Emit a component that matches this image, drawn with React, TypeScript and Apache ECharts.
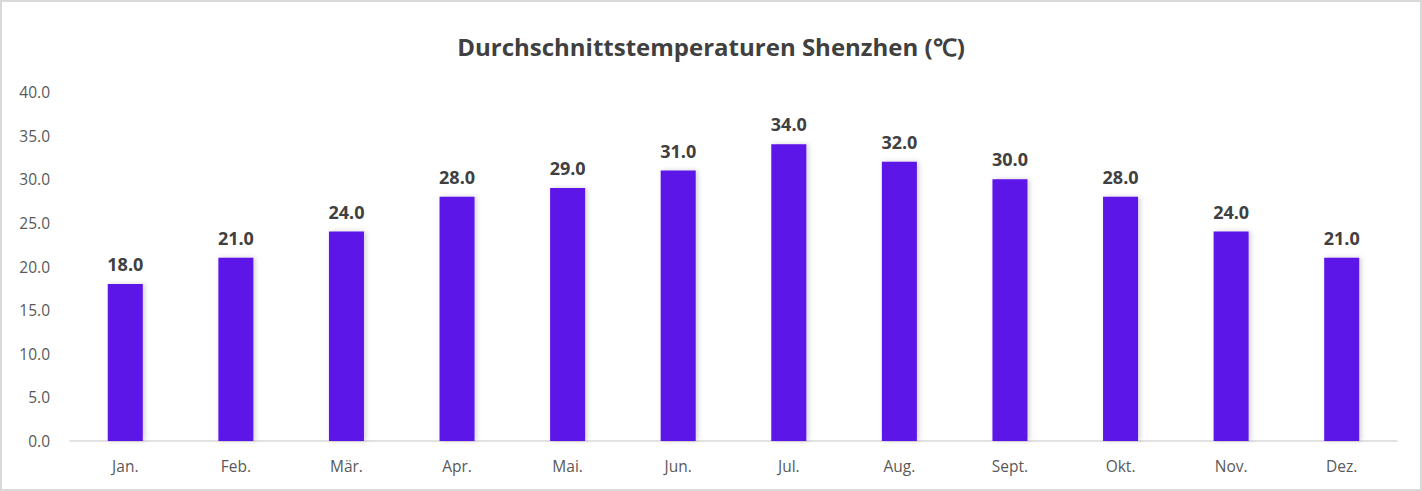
import React, { useEffect, useRef } from "react";
import * as echarts from "echarts";

const months = ["Jan.", "Feb.", "Mär.", "Apr.", "Mai.", "Jun.", "Jul.", "Aug.", "Sept.", "Okt.", "Nov.", "Dez."];
const temps = [18, 21, 24, 28, 29, 31, 34, 32, 30, 28, 24, 21];
const titleText = "Durchschnittstemperaturen Shenzhen (℃)";

export default function App() {
  const ref = useRef<HTMLDivElement>(null);
  useEffect(() => {
    const chart = echarts.init(ref.current!, null, { renderer: "svg" });
    chart.setOption({
      animation: false,
      backgroundColor: "#ffffff",
      textStyle: { fontFamily: "Open Sans" },
      title: {
        text: titleText,
        left: "center",
        top: 29,
        textStyle: { fontSize: 24, fontWeight: "bold", color: "#404040", fontFamily: "Open Sans" },
      },
      graphic: [
        {
          type: "rect",
          shape: { x: 1, y: 1, width: 1420, height: 489 },
          style: { fill: "none", stroke: "#d9d9d9", lineWidth: 2 },
          silent: true,
        },
      ],
      grid: { left: 70, right: 25, top: 92, bottom: 50 },
      xAxis: {
        type: "category",
        data: months,
        axisLine: { lineStyle: { color: "#d9d9d9", width: 1.5 } },
        axisTick: { show: false },
        axisLabel: { color: "#595959", fontSize: 15.5, margin: 17 },
      },
      yAxis: {
        type: "value",
        min: 0,
        max: 40,
        interval: 5,
        splitLine: { show: false },
        axisLine: { show: false },
        axisTick: { show: false },
        axisLabel: {
          color: "#595959",
          fontSize: 15.5,
          margin: 20,
          formatter: (v: number) => v.toFixed(1),
        },
      },
      series: [
        {
          type: "bar",
          data: temps,
          barWidth: 35,
          itemStyle: {
            color: "#5b14e8",
            shadowColor: "rgba(0,0,0,0.18)",
            shadowBlur: 5,
            shadowOffsetX: 2,
            shadowOffsetY: 0,
          },
          label: {
            show: true,
            position: "top",
            distance: 11,
            fontSize: 18,
            fontWeight: "bold",
            color: "#404040",
            formatter: (p: any) => Number(p.value).toFixed(1),
          },
        },
      ],
    });
    return () => chart.dispose();
  }, []);
  return (
    <div
      ref={ref}
      style={{ position: "absolute", left: 0, top: 0, width: 1422, height: 491 }}
    />
  );
}
